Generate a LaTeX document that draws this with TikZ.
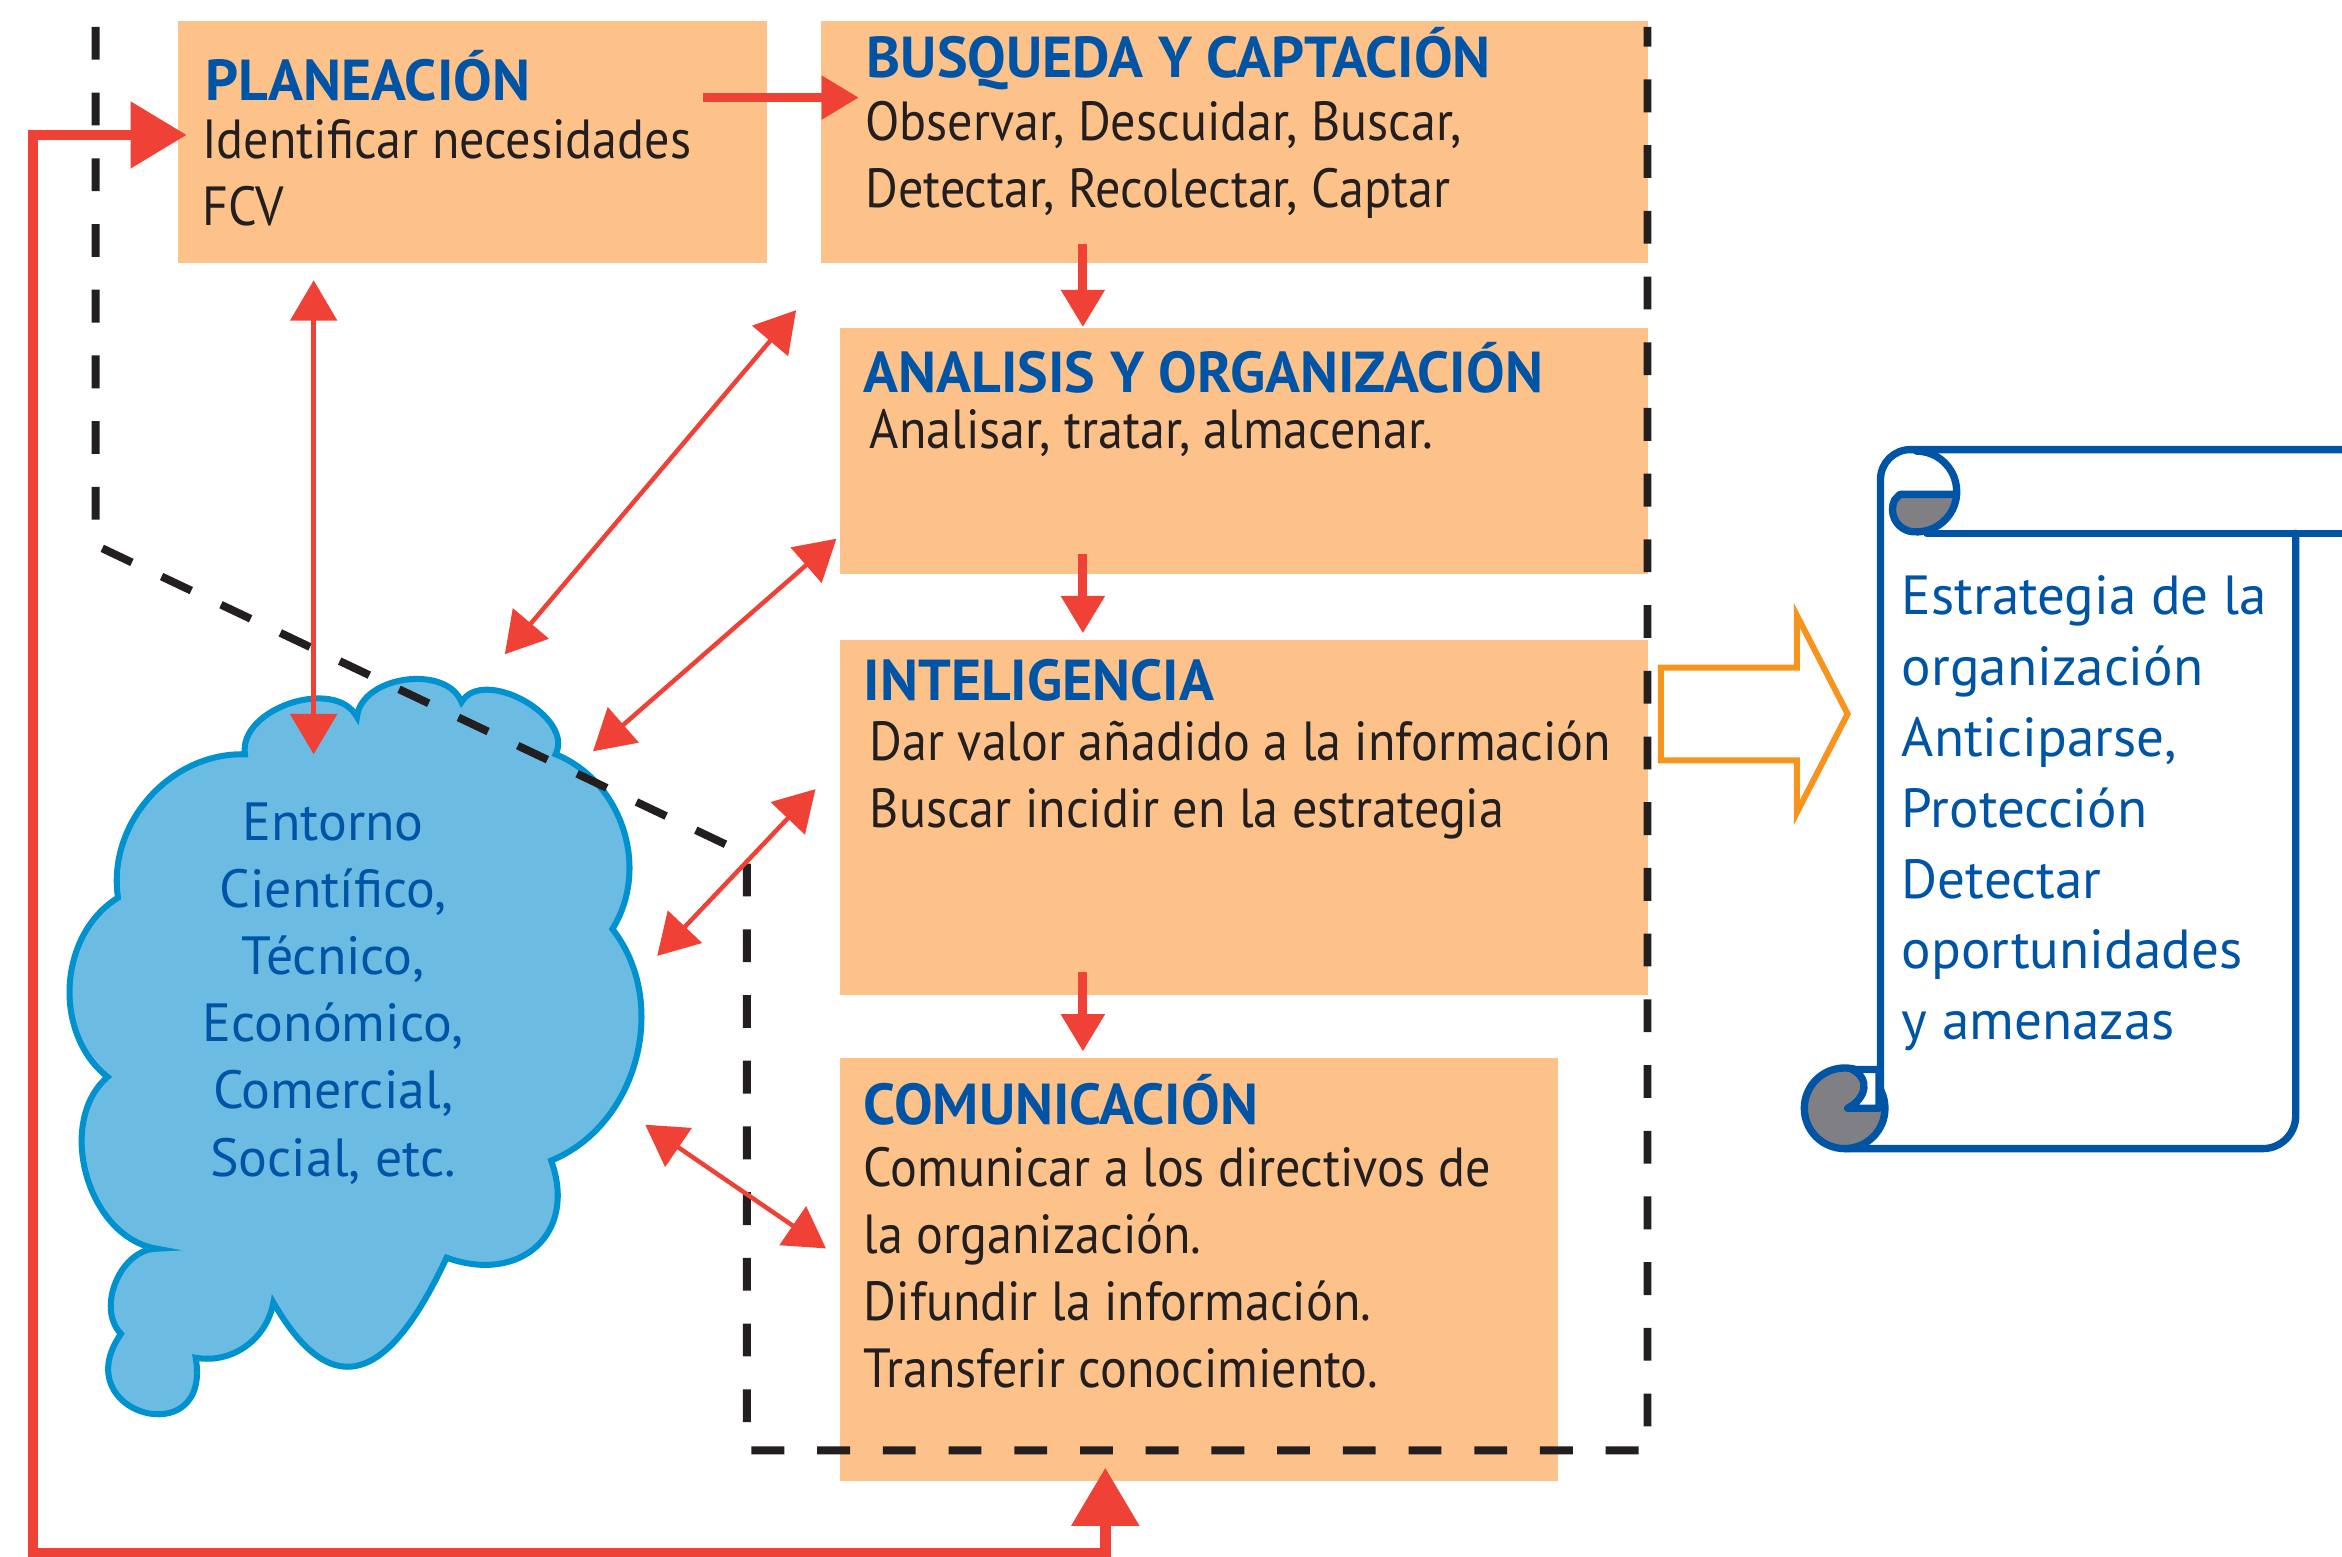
\documentclass[tikz,border=0pt]{standalone}
\usepackage{fontspec}
\setmainfont{PT Sans}
\newfontfamily\narrowfont[FakeStretch=0.91]{PT Sans}
\usetikzlibrary{arrows.meta,calc}

\definecolor{boxorange}{RGB}{253,194,138}
\definecolor{titleblue}{RGB}{0,84,166}
\definecolor{inkblack}{RGB}{35,31,32}
\definecolor{arrowred}{RGB}{239,65,54}
\definecolor{cloudfill}{RGB}{108,187,227}
\definecolor{cloudline}{RGB}{0,146,207}
\definecolor{scrollblue}{RGB}{0,84,166}
\definecolor{curlgray}{RGB}{128,128,132}
\definecolor{hollowor}{RGB}{247,148,29}

\begin{document}
\begin{tikzpicture}[x=0.02cm, y=-0.02cm,
		stage/.style={fill=boxorange, inner sep=0pt, anchor=north west},
		stagetitle/.style={anchor=base west, inner sep=0pt, text=titleblue, font=\bfseries\fontsize{22}{26}\selectfont},
		stagetext/.style={anchor=base west, inner sep=0pt, align=left, text=inkblack, font=\narrowfont\fontsize{21}{25.6}\selectfont},
		bluetext/.style={inner sep=0pt, text=scrollblue, font=\fontsize{20.5}{25.6}\selectfont},
		flow/.style={draw=arrowred, line width=3.4pt, -{Triangle[length=0.5cm,width=0.56cm]}},
		link/.style={draw=arrowred, line width=1.7pt, {Triangle[length=0.54cm,width=0.62cm]}-{Triangle[length=0.54cm,width=0.62cm]}},
		feedback/.style={draw=arrowred, line width=4pt, {Triangle[length=0.75cm,width=0.86cm]}-{Triangle[length=0.78cm,width=0.88cm]}},
		fence/.style={draw=inkblack, line width=3pt, dash pattern=on 0.44cm off 0.44cm},
		cloudshape/.style={fill=cloudfill, draw=cloudline, line width=2.3pt},
		scroll/.style={fill=white, draw=scrollblue, line width=2.8pt, line join=round},
		scrollline/.style={draw=scrollblue, line width=2.8pt, line join=round, line cap=round},
		curl/.style={fill=curlgray, draw=scrollblue, line width=2.8pt, line join=round},
		hollowarrow/.style={draw=hollowor, line width=2.3pt, fill=white}
	]

	\useasboundingbox (0,0) rectangle (1568,1042);

	% stages
	\node[stage, minimum width=7.88cm, minimum height=3.24cm] (plan) at (119,14) {};
	\node[stage, minimum width=11.08cm, minimum height=3.24cm] (busq) at (549,14) {};
	\node[stage, minimum width=10.82cm, minimum height=3.30cm] (anal) at (562,219) {};
	\node[stage, minimum width=10.82cm, minimum height=4.76cm] (intel) at (562,428) {};
	\node[stage, minimum width=9.62cm, minimum height=5.66cm] (comu) at (562,708) {};

	% entorno cloud
	\filldraw[cloudshape] (164,505) to[bend left=80] (239,480) to[bend left=76] (309,470)
		to[bend left=88] (372,505) to[bend left=50] (410,622) to[bend left=53] (369,777)
		to[out=-70, in=-20, looseness=1.4] (299,842) to[out=-115, in=-60, looseness=1.8] (183,872)
		to[out=-100, in=-10] (131,909) to[out=-80, in=-125, looseness=3.2] (81,893)
		to[bend left=67] (105,836) to[bend left=65] (72,721)
		to[bend left=55] (79,601) to[bend left=50] (164,505) -- cycle;
	\node[bluetext, align=center] (env) at (223,665) {Entorno\\Científico,\\Técnico,\\Económico,\\Comercial,\\Social, etc.};

	% scroll
	\fill[white] (1259,301) -- (1259,769) -- (1515,769) -- (1537,747) -- (1537,357) -- (1600,357) -- (1600,301) -- cycle;
	\draw[scrollline] (1259,742) -- (1259,321) arc[start angle=180, end angle=90, radius=0.4cm] -- (1600,301);
	\draw[scrollline] (1290,357) -- (1600,357);
	\draw[scrollline] (1537,357) -- (1537,747) arc[start angle=0, end angle=-90, radius=0.44cm] -- (1235,769);
	\draw[scrollline] (1283,302) arc[start angle=90, end angle=-4, radius=0.54cm];
	\filldraw[curl] (1272,331) -- (1310,331) arc[start angle=-4, end angle=-95, radius=0.54cm]
		arc[start angle=-95, end angle=-205, radius=0.3cm] -- cycle;
	\filldraw[curl] (1235,742) circle[radius=0.54cm];
	\filldraw[scroll] (1237,742) -- (1258,742) -- (1258,716) -- (1240,716)
		.. controls (1252,722) and (1250,735) .. (1237,742) -- cycle;
	\node[bluetext, align=left, anchor=north west, font=\fontsize{21}{27}\selectfont] (goal) at (1273,385)
		{Estrategia de la\\organización\\Anticiparse,\\Protección\\Detectar\\oportunidades\\y amenazas};

	% boundary
	\draw[fence] (64,18) -- (64,365) -- (500,572) -- (500,971) -- (1103,971) -- (1103,18);

	% flow between stages
	\coordinate (col) at (725,0);
	\draw[flow] ($(plan.east)+(-43,-30)$) -- ($(busq.west)+(26,-30)$);
	\draw[flow] ($(busq.south -| col)+(0,-13)$) -- (anal.north -| col);
	\draw[flow] ($(anal.south -| col)+(0,-14)$) -- ($(intel.north -| col)+(0,-4)$);
	\draw[flow] ($(intel.south -| col)+(0,-16)$) -- ($(comu.north -| col)+(0,-4)$);

	% links with the environment
	\coordinate (e1) at (210,505);
	\coordinate (e2) at (338,438);
	\coordinate (e3) at (397,503);
	\coordinate (e4) at (440,640);
	\coordinate (e5) at (432,753);
	\draw[link] ($(plan.south -| e1)+(0,11)$) -- (e1);
	\draw[link] ($(busq.south west)+(-16,31)$) -- (e2);
	\draw[link] ($(anal.south west)+(-2,-24)$) -- (e3);
	\draw[link] ($(intel.west)+(-16,-19)$) -- (e4);
	\draw[link] ($(comu.west)+(-9,-14)$) -- (e5);

	% feedback loop
	\coordinate (fbA) at (22,1040);
	\coordinate (fbB) at (740,1040);
	\draw[feedback] ($(plan.west)+(6,-5)$) -| (fbA) -- (fbB) -- ($(fbB |- comu.south)+(0,-9)$);

	% towards the strategy
	\draw[hollowarrow] (1112,447) -- (1203,447) -- (1203,412) -- (1237,478) -- (1203,544) -- (1203,509) -- (1112,509) -- cycle;

	% texts (multi-line nodes sit on their last line)
	\node[stagetitle] (plan-t) at (137,67) {PLANEACIÓN};
	\node[stagetext] (plan-b) at (135,151) {Identificar necesidades\\FCV};
	\node[stagetitle] (busq-t) at (580,52) {BUSQUEDA Y CAPTACIÓN};
	\node[stagetext] (busq-b) at (579,139) {Observar, Descuidar, Buscar,\\Detectar, Recolectar, Captar};
	\node[stagetitle] (anal-t) at (578,263) {ANALISIS Y ORGANIZACIÓN};
	\node[stagetext] (anal-b) at (582,300) {Analisar, tratar, almacenar.};
	\node[stagetitle] (intel-t) at (578,469) {INTELIGENCIA};
	\node[stagetext] (intel-b) at (582,554) {Dar valor añadido a la información\\Buscar incidir en la estrategia};
	\node[stagetitle] (comu-t) at (578,753) {COMUNICACIÓN};
	\node[stagetext] (comu-b) at (578,929) {Comunicar a los directivos de\\la organización.\\Difundir la información.\\Transferir conocimiento.};

\end{tikzpicture}
\end{document}
